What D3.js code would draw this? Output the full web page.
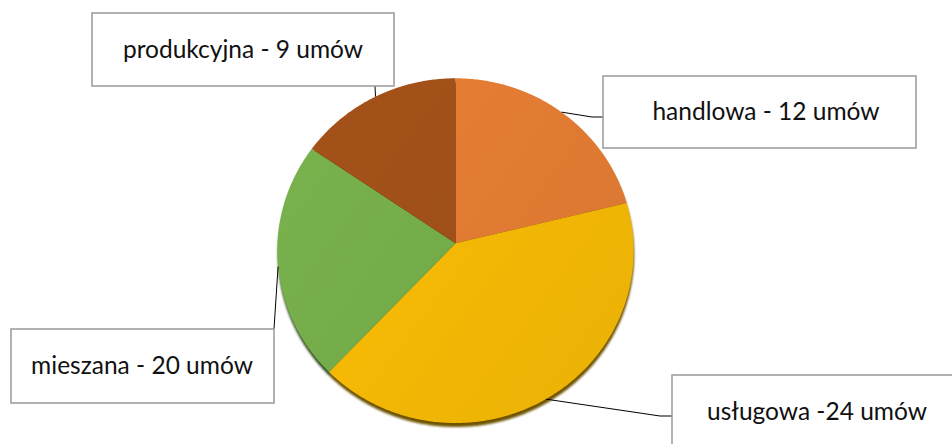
<!DOCTYPE html>
<html lang="pl">
  <head>
    <meta charset="utf-8">
    <title>Umowy wg rodzaju działalności</title>
    <script src="https://d3js.org/d3.v7.js"></script>
    <style>
      body { margin: 0; background: #fff; }
    </style>
  </head>
  <body>
    <script>

  // data
  var categories = ["handlowa", "usługowa", "mieszana", "produkcyjna"];
  // slice sizes (%) as drawn in the picture
  var shares = [21.2, 40.9, 22.4, 15.5];
  var labels = ["handlowa - 12 umów", "usługowa -24 umów", "mieszana - 20 umów", "produkcyjna - 9 umów"];
  var colors = ["#e07a33", "#f2b705", "#74ab4a", "#9e4f18"];

  // width and height
  var w = 952;
  var h = 444;

  // slightly tilted disc: projective mapping of the unit disc onto the page
  var cx = 455.5, cy = 243.3, rx = 178, ry = 161.7, g = -0.0426;
  function project(angle, r) {
    var x = r * Math.sin(angle), y = -r * Math.cos(angle);
    var q = 1 + g * y;
    return [cx + rx * x / q, (cy + ry * y) / q];
  }

  // label boxes + where their leader touches the pie (angle in degrees)
  var boxes = [
    {x: 603, y: 76, w: 313, h: 72, tx: 766, anchor: 38, path: [[592, 117], [603, 117]]},
    {x: 672, y: 375, w: 290, h: 74, tx: 817, anchor: 150.7, path: [[660, 416], [672, 416]]},
    {x: 11, y: 329, w: 263, h: 74, tx: 142, anchor: 262.3, path: [[274, 329]]},
    {x: 92, y: 13, w: 302, h: 73, tx: 243, anchor: 332.2, path: [[375, 86]]}
  ];

  var pie = d3.pie().sort(null).value(d => d);
  var arcs = pie(shares);

  function slicePoints(d) {
    var pts = [project(0, 0)];
    var n = Math.max(2, Math.ceil((d.endAngle - d.startAngle) / 0.01));
    for (var i = 0; i <= n; i++) {
      pts.push(project(d.startAngle + (d.endAngle - d.startAngle) * i / n, 1));
    }
    return pts;
  }
  var line = d3.line().curve(d3.curveLinearClosed);

  var svg = d3.select("body")
    .append("svg")
    .attr("width", w)
    .attr("height", h)
    .style("font-family", "Lato, 'Open Sans', sans-serif");

  var defs = svg.append("defs");
  defs.append("filter").attr("id", "soft")
    .append("feGaussianBlur").attr("stdDeviation", 0.9);

  colors.forEach(function(c, i) {
    var gr = defs.append("linearGradient")
      .attr("id", "grad" + i)
      .attr("gradientUnits", "userSpaceOnUse")
      .attr("x1", cx - rx).attr("y1", 120)
      .attr("x2", cx + rx).attr("y2", 380);
    gr.append("stop").attr("offset", 0).attr("stop-color", d3.color(c).brighter(0.12));
    gr.append("stop").attr("offset", 1).attr("stop-color", d3.color(c).darker(0.1));
  });

  // edge / shadow under the disc
  svg.append("g")
    .attr("transform", "translate(0.5, 4)")
    .attr("filter", "url(#soft)")
    .selectAll("path")
    .data(arcs)
    .enter()
    .append("path")
    .attr("d", d => line(slicePoints(d)))
    .attr("fill", (d, i) => d3.color(colors[i]).darker(2.2));

  // slices
  svg.append("g")
    .selectAll("path")
    .data(arcs)
    .enter()
    .append("path")
    .attr("d", d => line(slicePoints(d)))
    .attr("fill", (d, i) => "url(#grad" + i + ")");

  // leader lines
  svg.append("g")
    .selectAll("path")
    .data(boxes)
    .enter()
    .append("path")
    .attr("d", d => d3.line()([project(d.anchor * Math.PI / 180, 1)].concat(d.path)))
    .attr("fill", "none")
    .attr("stroke", "#000")
    .attr("stroke-width", 1);

  // label boxes
  var lab = svg.append("g")
    .selectAll("g")
    .data(boxes)
    .enter()
    .append("g");

  lab.append("rect")
    .attr("x", d => d.x)
    .attr("y", d => d.y)
    .attr("width", d => d.w)
    .attr("height", d => d.h)
    .attr("fill", "#fff")
    .attr("stroke", "#999")
    .attr("stroke-width", 1.5);

  lab.append("text")
    .attr("x", d => d.tx)
    .attr("y", d => d.y + d.h / 2 + 8)
    .attr("text-anchor", "middle")
    .attr("font-size", 24.5)
    .attr("fill", "#111")
    .text((d, i) => labels[i]);

    </script>
  </body>
</html>
